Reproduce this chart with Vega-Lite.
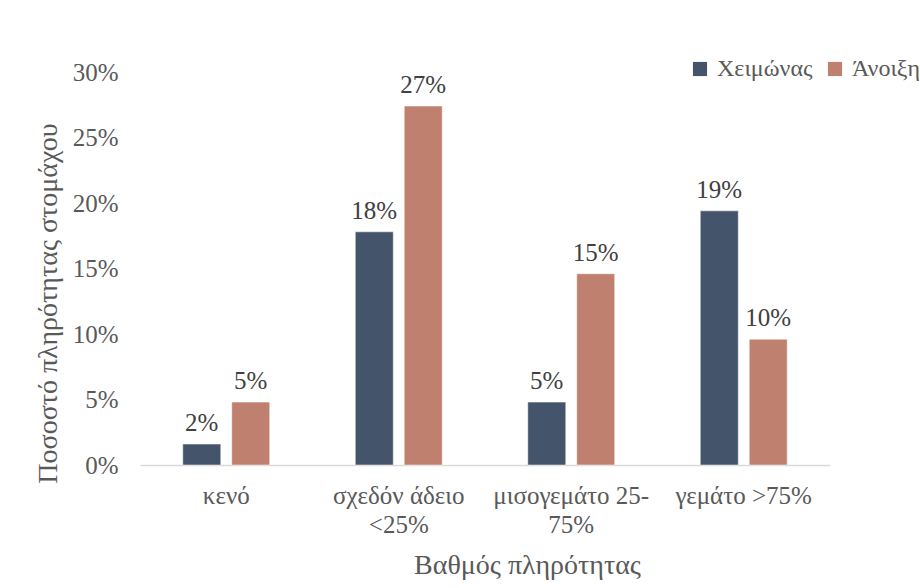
{
  "$schema": "https://vega.github.io/schema/vega-lite/v6.json",
  "width": 690,
  "height": 393,
  "autosize": "none",
  "padding": {"left": 140, "top": 72, "right": 90, "bottom": 123},
  "background": "white",
  "config": {
    "view": {"stroke": null},
    "font": "Liberation Serif",
    "axis": {"labelFont": "Liberation Serif", "titleFont": "Liberation Serif", "labelColor": "#595959", "titleColor": "#595959", "titleFontWeight": "normal"},
    "legend": {"labelFont": "Liberation Serif", "labelColor": "#595959"}
  },
  "data": {
    "values": [
      {"category": "κενό", "season": "Χειμώνας", "share": 0.016},
      {"category": "κενό", "season": "Άνοιξη", "share": 0.048},
      {"category": "σχεδόν άδειο|<25%", "season": "Χειμώνας", "share": 0.178},
      {"category": "σχεδόν άδειο|<25%", "season": "Άνοιξη", "share": 0.274},
      {"category": "μισογεμάτο 25-|75%", "season": "Χειμώνας", "share": 0.048},
      {"category": "μισογεμάτο 25-|75%", "season": "Άνοιξη", "share": 0.146},
      {"category": "γεμάτο >75%", "season": "Χειμώνας", "share": 0.194},
      {"category": "γεμάτο >75%", "season": "Άνοιξη", "share": 0.096}
    ]
  },
  "encoding": {
    "x": {
      "field": "category",
      "type": "nominal",
      "sort": null,
      "scale": {"paddingInner": 0.496, "paddingOuter": 0.248},
      "axis": {
        "title": "Βαθμός πληρότητας",
        "titleFontSize": 28,
        "titleX": 387,
        "titleY": 100,
        "titleBaseline": "middle",
        "labelAngle": 0,
        "labelFontSize": 25,
        "labelLineHeight": 29,
        "labelPadding": 18,
        "labelExpr": "split(datum.label, '|')",
        "ticks": false,
        "domainColor": "#D9D9D9",
        "domainWidth": 1.5
      }
    },
    "xOffset": {"field": "season", "type": "nominal", "sort": ["Χειμώνας", "Άνοιξη"], "scale": {"paddingInner": 0.224, "paddingOuter": 0}},
    "y": {
      "field": "share",
      "type": "quantitative",
      "scale": {"domain": [0, 0.3], "nice": false},
      "axis": {
        "title": "Ποσοστό πληρότητας στομάχου",
        "titleFontSize": 28,
        "titleX": -92,
        "titleY": 231,
        "titleBaseline": "middle",
        "titleAngle": -90,
        "values": [0, 0.05, 0.1, 0.15, 0.2, 0.25, 0.3],
        "format": ".0%",
        "labelFontSize": 25,
        "labelPadding": 22,
        "ticks": false,
        "domain": false,
        "grid": false
      }
    }
  },
  "layer": [
    {
      "mark": {"type": "bar", "stroke": "white", "strokeWidth": 0.5},
      "encoding": {
        "color": {
          "field": "season",
          "type": "nominal",
          "sort": ["Χειμώνας", "Άνοιξη"],
          "scale": {"domain": ["Χειμώνας", "Άνοιξη"], "range": ["#44546A", "#C0806F"]},
          "legend": {
            "title": null,
            "orient": "none",
            "direction": "horizontal",
            "legendX": 548,
            "legendY": -15,
            "symbolType": "square",
            "symbolSize": 200,
            "symbolStrokeWidth": 0,
            "labelFontSize": 24,
            "columnPadding": 10,
            "labelOffset": 5
          }
        }
      }
    },
    {
      "mark": {"type": "text", "baseline": "bottom", "dy": -8, "fontSize": 25, "color": "#404040"},
      "encoding": {
        "text": {"field": "share", "type": "quantitative", "format": ".0%"}
      }
    }
  ]
}
